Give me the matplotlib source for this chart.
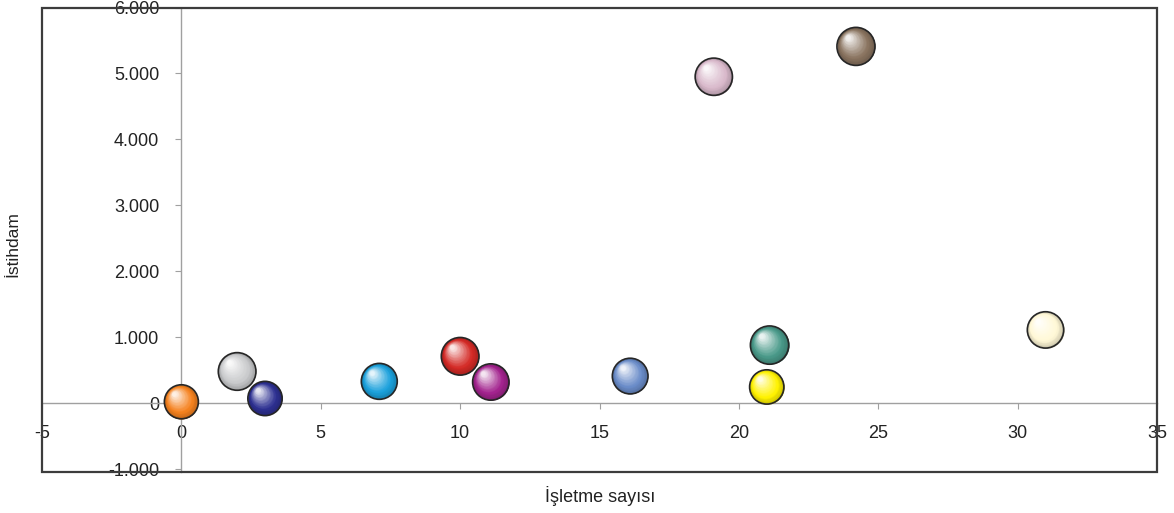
import numpy as np
import matplotlib.pyplot as plt
from matplotlib.colors import to_rgb
from matplotlib.patches import Rectangle
from matplotlib.ticker import FuncFormatter, MultipleLocator
import matplotlib.transforms as mtransforms

plt.rcParams['font.family'] = ['Liberation Sans', 'DejaVu Sans']

# veri: isletme sayisi, istihdam, balon buyuklugu
isletme = [0, 2, 3, 7.1, 10, 11.1, 16.1, 19.1, 24.2, 21.1, 21, 31]
istihdam = [20, 480, 70, 330, 710, 320, 410, 4950, 5410, 880, 245, 1110]
boyut = [1.20, 1.47, 1.22, 1.34, 1.47, 1.37, 1.32, 1.44, 1.50, 1.52, 1.22, 1.37]
renkler = ['#f5821f', '#c9cacc', '#2e3192', '#1ba1dc', '#d42a26', '#a3238e',
           '#6a8cc9', '#d9b9cb', '#8a7460', '#4a9a8a', '#fff200', '#fff8d6']

fig = plt.figure(figsize=(11.74, 5.13), dpi=100)
ax = fig.add_axes([42 / 1174, 41 / 513, 1115 / 1174, 464.5 / 513])
ax.set_xlim(-5, 35)
ax.set_ylim(-1045, 6000)


def mix(a, b, w):
    return tuple(a[i] * (1 - w) + b[i] * w for i in range(3))


# 3B gorunumlu balonlar: ust uste kuculen, sol uste kayan daireler
N = 40
for x, y, b, c in zip(isletme, istihdam, boyut, renkler):
    base = to_rgb(c)
    dark = tuple(v * 0.78 for v in base)
    s0 = b * 500
    d0 = np.sqrt(s0)
    for i in range(N):
        t = i / (N - 1)
        if t < 0.28:
            col = mix(dark, base, t / 0.28)
        else:
            col = mix(base, (1, 1, 1), ((t - 0.28) / 0.72) ** 1.1 * 0.88)
        d = d0 * (1 - 0.88 * t)
        dx = -0.42 * t * d0 / 2
        dy = 0.48 * t * d0 / 2
        tr = ax.transData + mtransforms.ScaledTranslation(dx / 72, dy / 72, fig.dpi_scale_trans)
        ax.scatter([x], [y], s=d ** 2, color=col, linewidths=0, transform=tr, zorder=3)
    ax.scatter([x], [y], s=s0, facecolors='none', edgecolors='#262626', linewidths=1.2, zorder=4)

for sp in ['left', 'bottom']:
    ax.spines[sp].set_position(('data', 0))
    ax.spines[sp].set_color('#a0a0a0')
    ax.spines[sp].set_linewidth(1.0)
for sp in ['top', 'right']:
    ax.spines[sp].set_visible(False)
ax.add_patch(Rectangle((0, 0), 1, 1, transform=ax.transAxes, fill=False,
                       edgecolor='#3c3c3c', linewidth=1.6, clip_on=False, zorder=5))

ax.xaxis.set_major_locator(MultipleLocator(5))
ax.yaxis.set_major_locator(MultipleLocator(1000))
ax.yaxis.set_major_formatter(FuncFormatter(lambda v, p: f"{int(round(v)):,}".replace(',', '.')))
ax.xaxis.set_major_formatter(FuncFormatter(lambda v, p: f"{int(round(v))}"))
ax.tick_params(axis='both', direction='out', length=4, color='#a0a0a0', labelsize=13,
               labelcolor='#222222')
ax.tick_params(axis='x', pad=12)
ax.tick_params(axis='y', pad=12)

fig.text(600 / 1174, 1 - 496 / 513, 'İşletme sayısı', ha='center', va='center', fontsize=13, color='#222222')
fig.text(13 / 1174, 1 - 244 / 513, 'İstihdam', ha='center', va='center', rotation=90, fontsize=12.5, color='#222222')

fig.savefig('out.png', dpi=100)
